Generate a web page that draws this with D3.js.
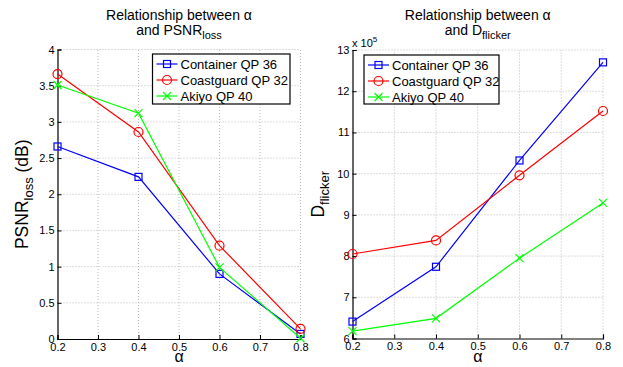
<!DOCTYPE html>
<html>
<head>
<meta charset="utf-8">
<script src="https://cdn.jsdelivr.net/npm/d3@7"></script>
<style>
  body { margin: 0; background: #fff; }
  svg { font-family: "Liberation Sans", Arial, sans-serif; }
</style>
</head>
<body>
<div id="chart"></div>
<script>
const alphas = [0.2, 0.4, 0.6, 0.8];
const xTicks = [0.2, 0.3, 0.4, 0.5, 0.6, 0.7, 0.8];

const seriesNames = ["Container QP 36", "Coastguard QP 32", "Akiyo QP 40"];
const seriesColors = ["#0000ff", "#ff0000", "#00ff00"];
const seriesMarkers = ["square", "circle", "cross"];

// PSNR loss (dB)
const psnrContainer = [2.66, 2.24, 0.90, 0.07];
const psnrCoastguard = [3.66, 2.86, 1.29, 0.14];
const psnrAkiyo = [3.51, 3.12, 0.99, 0.01];
const psnrTicks = [0, 0.5, 1, 1.5, 2, 2.5, 3, 3.5, 4];

// D flicker (x 10^5)
const flickContainer = [6.41, 7.74, 10.32, 12.70];
const flickCoastguard = [8.05, 8.38, 9.96, 11.52];
const flickAkiyo = [6.18, 6.49, 7.95, 9.29];
const flickTicks = [6, 7, 8, 9, 10, 11, 12, 13];

const W = 623, H = 367;
const svg = d3.select("#chart").append("svg").attr("width", W).attr("height", H);

function drawMarker(g, type, x, y, color) {
  if (type === "square") {
    g.append("rect").attr("x", x - 3.5).attr("y", y - 3.5).attr("width", 7).attr("height", 7)
      .attr("fill", "none").attr("stroke", color).attr("stroke-width", 1.2);
  } else if (type === "circle") {
    g.append("circle").attr("cx", x).attr("cy", y).attr("r", 4.5)
      .attr("fill", "none").attr("stroke", color).attr("stroke-width", 1.2);
  } else {
    const s = 4;
    g.append("path").attr("d", `M${x - s},${y - s}L${x + s},${y + s}M${x - s},${y + s}L${x + s},${y - s}`)
      .attr("stroke", color).attr("stroke-width", 1.2);
  }
}

function drawPanel(opt) {
  const x = d3.scaleLinear().domain([0.2, 0.8]).range(opt.xr);
  const y = d3.scaleLinear().domain(opt.yd).range(opt.yr);
  const g = svg.append("g");

  // grid
  g.append("g").selectAll("line").data(xTicks.slice(1)).join("line")
    .attr("x1", d => x(d)).attr("x2", d => x(d)).attr("y1", opt.yr[0]).attr("y2", opt.yr[1])
    .attr("stroke", "#aaa").attr("stroke-width", 0.8).attr("stroke-dasharray", "1,2");
  g.append("g").selectAll("line").data(opt.ticks.slice(1)).join("line")
    .attr("x1", opt.xr[0]).attr("x2", opt.xr[1]).attr("y1", d => y(d)).attr("y2", d => y(d))
    .attr("stroke", "#aaa").attr("stroke-width", 0.8).attr("stroke-dasharray", "1,2");

  // axes
  const xa = g.append("g").attr("transform", `translate(0,${opt.yr[0]})`)
    .call(d3.axisBottom(x).tickValues(xTicks).tickSize(-4).tickPadding(4).tickFormat(d3.format("")));
  const ya = g.append("g").attr("transform", `translate(${opt.xr[0]},0)`)
    .call(d3.axisLeft(y).tickValues(opt.ticks).tickSize(-4).tickPadding(3).tickFormat(d3.format("")));
  [xa, ya].forEach(a => {
    a.select(".domain").attr("stroke", "#000").attr("stroke-width", 1.2);
    a.selectAll(".tick line").attr("stroke", "#000");
    a.selectAll("text").attr("font-size", 11).attr("fill", "#000")
      .attr("font-family", "Liberation Sans, Arial, sans-serif");
  });

  // lines and markers
  opt.series.forEach((vals, i) => {
    const line = d3.line().x((d, j) => x(alphas[j])).y(d => y(d));
    g.append("path").datum(vals).attr("d", line).attr("fill", "none")
      .attr("stroke", seriesColors[i]).attr("stroke-width", 1.2);
    vals.forEach((v, j) => drawMarker(g, seriesMarkers[i], x(alphas[j]), y(v), seriesColors[i]));
  });

  // title
  const cx = (opt.xr[0] + opt.xr[1]) / 2;
  g.append("text").attr("x", cx).attr("y", 20).attr("text-anchor", "middle")
    .attr("font-size", 14).text("Relationship between α");
  const t2 = g.append("text").attr("x", cx).attr("y", 35).attr("text-anchor", "middle").attr("font-size", 14);
  t2.append("tspan").text("and " + opt.titleMain);
  t2.append("tspan").attr("dy", 4).attr("font-size", 11).text(opt.titleSub);

  // x label
  g.append("text").attr("x", cx).attr("y", 362).attr("text-anchor", "middle")
    .attr("font-size", 16).text("α");

  // y label
  const cy = (opt.yr[0] + opt.yr[1]) / 2;
  const yl = g.append("text").attr("transform", `translate(${opt.ylx},${cy + opt.yloff}) rotate(-90)`)
    .attr("text-anchor", "middle").attr("font-size", 17.5);
  yl.append("tspan").text(opt.yMain);
  yl.append("tspan").attr("dy", 5).attr("font-size", 13).text(opt.ySub);
  if (opt.yTail) yl.append("tspan").attr("dy", -5).text(opt.yTail);

  // legend
  const L = opt.legend;
  g.append("rect").attr("x", L[0]).attr("y", L[1]).attr("width", L[2]).attr("height", L[3])
    .attr("fill", "#fff").attr("stroke", "#000").attr("stroke-width", 1.2);
  seriesNames.forEach((name, i) => {
    const ly = L[1] + 10 + i * 16;
    g.append("line").attr("x1", L[0] + 4).attr("x2", L[0] + 25).attr("y1", ly).attr("y2", ly)
      .attr("stroke", seriesColors[i]).attr("stroke-width", 1.2);
    drawMarker(g, seriesMarkers[i], L[0] + 14.5, ly, seriesColors[i]);
    g.append("text").attr("x", L[0] + 28).attr("y", ly + 4.5).attr("font-size", 13).text(name);
  });
  return { x, y };
}

drawPanel({
  xr: [57.5, 300.5], yr: [339, 49.5], yd: [0, 4], ticks: psnrTicks,
  series: [psnrContainer, psnrCoastguard, psnrAkiyo],
  titleMain: "PSNR", titleSub: "loss",
  yMain: "PSNR", ySub: "loss", yTail: " (dB)", ylx: 28, yloff: 0,
  legend: [152.5, 54, 137.5, 50]
});

drawPanel({
  xr: [352.5, 603], yr: [338.5, 50], yd: [6, 13], ticks: flickTicks,
  series: [flickContainer, flickCoastguard, flickAkiyo],
  titleMain: "D", titleSub: "flicker",
  yMain: "D", ySub: "flicker", yTail: null, ylx: 324, yloff: 0,
  legend: [364, 55, 135, 49]
});

// exponent label
const ex = svg.append("text").attr("x", 352).attr("y", 47).attr("font-size", 11);
ex.append("tspan").text("x 10");
ex.append("tspan").attr("dy", -5).attr("font-size", 8).text("5");
</script>
</body>
</html>
